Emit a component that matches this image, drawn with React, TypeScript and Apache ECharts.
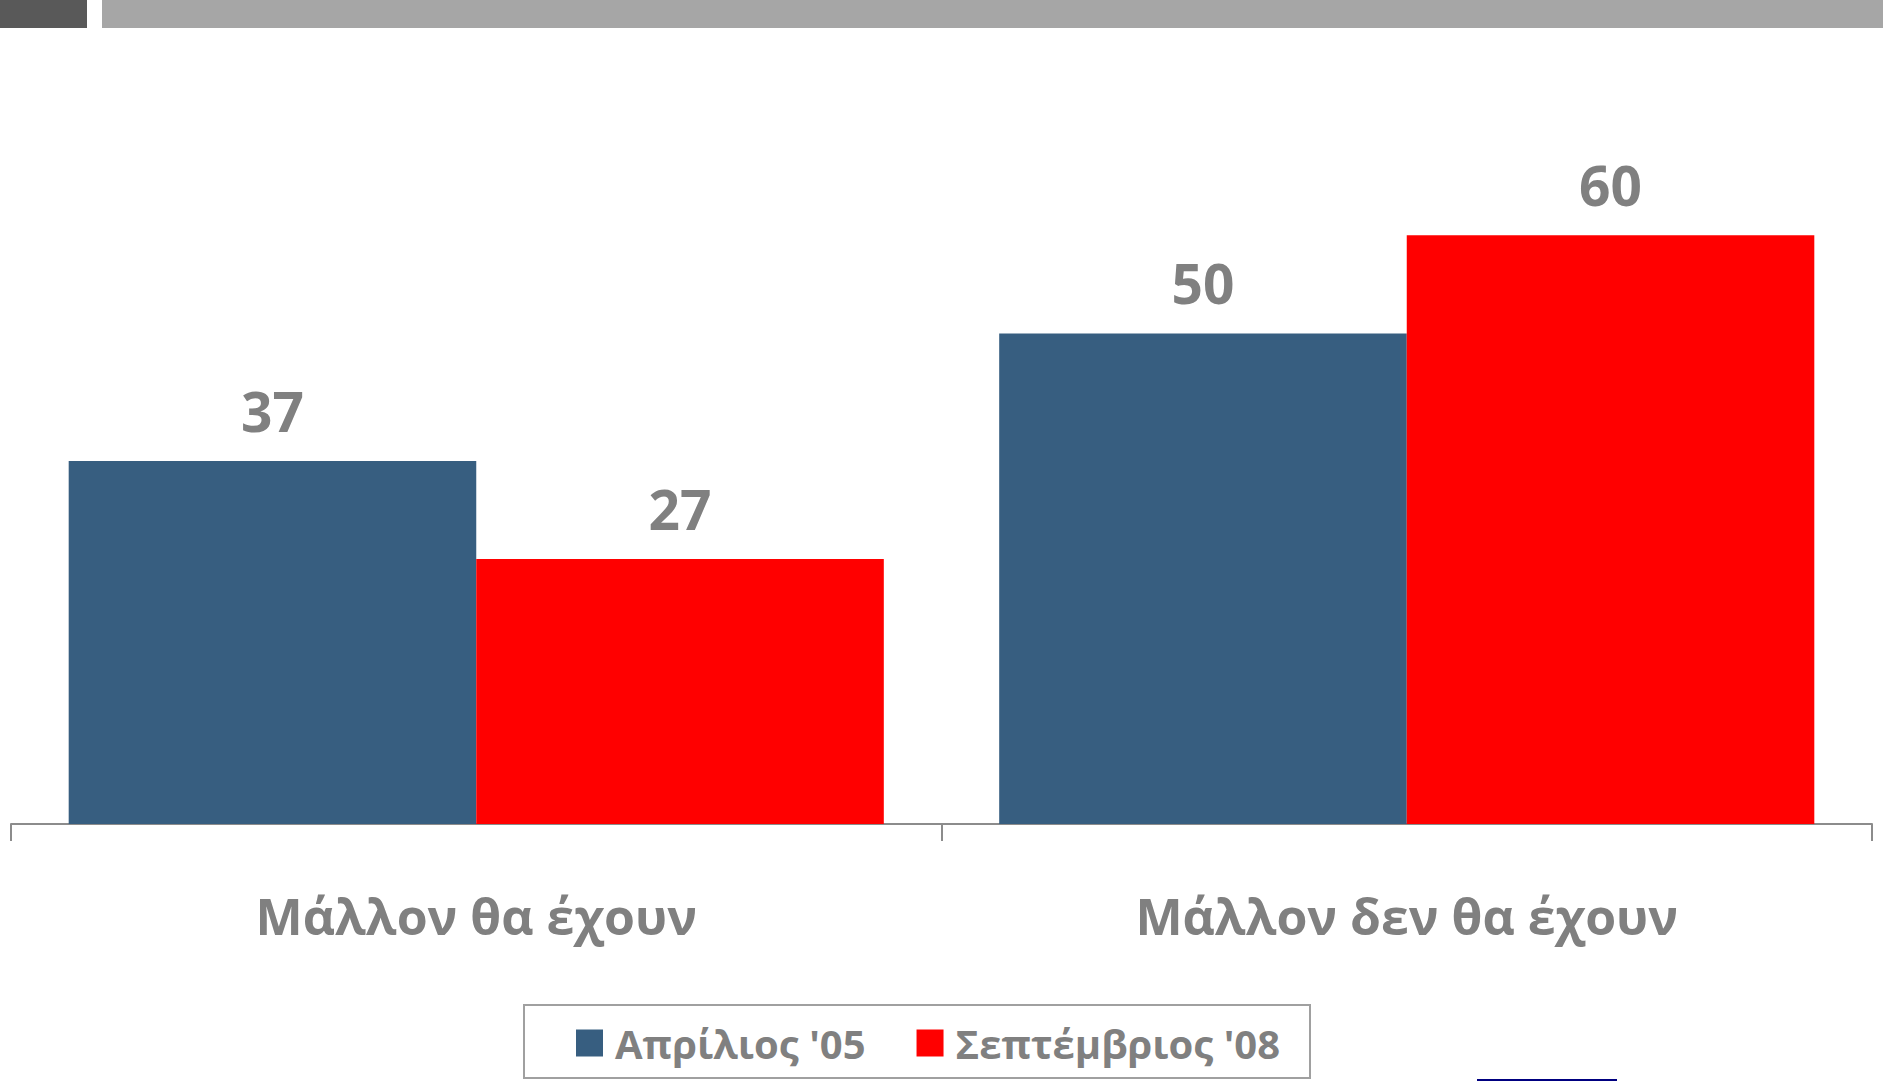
import React, { useEffect, useRef } from "react";
import * as echarts from "echarts";

const categories = ["Μάλλον θα έχουν", "Μάλλον δεν θα έχουν"];
const seriesNames = ["Απρίλιος '05", "Σεπτέμβριος '08"];
const april05 = [37, 50];
const sept08 = [27, 60];
const colors = ["#375E80", "#FF0000"];

const FONT = "'Open Sans', 'Noto Sans', sans-serif";
const GRAY = "#808080";

export default function App() {
  const ref = useRef<HTMLDivElement>(null);
  useEffect(() => {
    document.body.style.margin = "0";
    const chart = echarts.init(ref.current!, null, { renderer: "svg" });
    const labelCfg = {
      show: true,
      position: "top" as const,
      distance: 23,
      color: GRAY,
      fontFamily: FONT,
      fontWeight: "bold" as const,
      fontSize: 55,
    };
    chart.setOption({
      animation: false,
      backgroundColor: "#ffffff",
      color: colors,
      grid: { left: 11, right: 11, top: 39, bottom: 257, containLabel: false },
      xAxis: {
        type: "category",
        data: categories,
        axisLine: { show: true, lineStyle: { color: "#8c8c8c", width: 2 } },
        axisTick: { show: true, length: 17, lineStyle: { color: "#8c8c8c", width: 2 } },
        axisLabel: {
          color: GRAY,
          fontFamily: FONT,
          fontWeight: "bold",
          fontSize: 50,
          margin: 67,
        },
      },
      yAxis: {
        type: "value",
        min: 0,
        max: 80,
        show: false,
        splitLine: { show: false },
      },
      legend: {
        data: seriesNames,
        left: 576,
        top: 1023,
        padding: 0,
        itemWidth: 27,
        itemHeight: 27,
        itemGap: 51,
        icon: "rect",
        textStyle: {
          color: GRAY,
          fontFamily: FONT,
          fontWeight: "bold",
          fontSize: 40,
          lineHeight: 27,
          padding: [0, 0, 0, 7],
        },
      },
      graphic: [
        { type: "rect", shape: { x: 0, y: 0, width: 87, height: 28 }, style: { fill: "#595959" } },
        { type: "rect", shape: { x: 102, y: 0, width: 1781, height: 28 }, style: { fill: "#a6a6a6" } },
        {
          type: "rect",
          shape: { x: 524, y: 1005, width: 786, height: 73 },
          style: { fill: "none", stroke: "#a0a0a0", lineWidth: 2 },
        },
        { type: "rect", shape: { x: 1477, y: 1079, width: 140, height: 2 }, style: { fill: "#000080" } },
      ],
      series: [
        {
          name: seriesNames[0],
          type: "bar",
          data: april05,
          barGap: "0%",
          barCategoryGap: "12.4%",
          label: labelCfg,
        },
        {
          name: seriesNames[1],
          type: "bar",
          data: sept08,
          barGap: "0%",
          barCategoryGap: "12.4%",
          label: labelCfg,
        },
      ],
    });
    return () => chart.dispose();
  }, []);
  return (
    <div
      ref={ref}
      style={{ position: "fixed", left: 0, top: 0, width: 1883, height: 1081 }}
    />
  );
}
